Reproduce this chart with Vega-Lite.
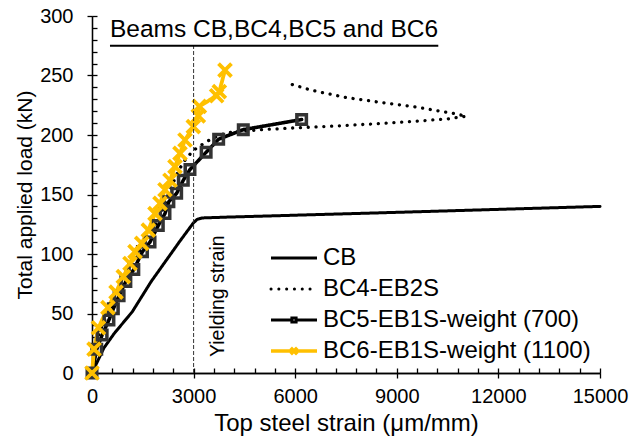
{
  "$schema": "https://vega.github.io/schema/vega-lite/v6.json",
  "width": 508,
  "height": 357,
  "autosize": {"type": "none"},
  "padding": {"left": 92, "top": 16, "right": 42, "bottom": 73},
  "config": {
    "view": {"stroke": null},
    "font": "Liberation Sans",
    "axis": {"labelFont": "Liberation Sans", "titleFont": "Liberation Sans", "labelColor": "#000", "titleColor": "#000", "titleFontWeight": "normal", "grid": false, "domainColor": "#000", "tickColor": "#000", "domainWidth": 1.3, "tickWidth": 1.3, "labelFlush": false, "labelOverlap": false, "format": "d"},
    "legend": {"labelFont": "Liberation Sans"}
  },
  "datasets": {
    "curves": [
      {"series": "CB", "strain": 0, "load": 0, "i": 0},
      {"series": "CB", "strain": 350, "load": 21, "i": 1},
      {"series": "CB", "strain": 650, "load": 33, "i": 2},
      {"series": "CB", "strain": 1190, "load": 51.5, "i": 3},
      {"series": "CB", "strain": 1750, "load": 77, "i": 4},
      {"series": "CB", "strain": 2200, "load": 95, "i": 5},
      {"series": "CB", "strain": 2600, "load": 111, "i": 6},
      {"series": "CB", "strain": 2990, "load": 126, "i": 7},
      {"series": "CB", "strain": 3100, "load": 129, "i": 8},
      {"series": "CB", "strain": 3250, "load": 130.3, "i": 9},
      {"series": "CB", "strain": 4000, "load": 131, "i": 10},
      {"series": "CB", "strain": 9000, "load": 135, "i": 11},
      {"series": "CB", "strain": 15000, "load": 140, "i": 12},
      {"series": "BC4-EB2S", "strain": 0, "load": 0, "i": 0},
      {"series": "BC4-EB2S", "strain": 100, "load": 24, "i": 1},
      {"series": "BC4-EB2S", "strain": 300, "load": 40, "i": 2},
      {"series": "BC4-EB2S", "strain": 600, "load": 57, "i": 3},
      {"series": "BC4-EB2S", "strain": 900, "load": 75, "i": 4},
      {"series": "BC4-EB2S", "strain": 1200, "load": 92, "i": 5},
      {"series": "BC4-EB2S", "strain": 1500, "load": 107, "i": 6},
      {"series": "BC4-EB2S", "strain": 1800, "load": 121, "i": 7},
      {"series": "BC4-EB2S", "strain": 2050, "load": 134, "i": 8},
      {"series": "BC4-EB2S", "strain": 2250, "load": 150, "i": 9},
      {"series": "BC4-EB2S", "strain": 2400, "load": 160, "i": 10},
      {"series": "BC4-EB2S", "strain": 2550, "load": 170, "i": 11},
      {"series": "BC4-EB2S", "strain": 2750, "load": 179, "i": 12},
      {"series": "BC4-EB2S", "strain": 2990, "load": 187, "i": 13},
      {"series": "BC4-EB2S", "strain": 3385, "load": 194.5, "i": 14},
      {"series": "BC4-EB2S", "strain": 3780, "load": 200, "i": 15},
      {"series": "BC4-EB2S", "strain": 4025, "load": 202, "i": 16},
      {"series": "BC4-EB2S", "strain": 5000, "load": 204.5, "i": 17},
      {"series": "BC4-EB2S", "strain": 6000, "load": 206, "i": 18},
      {"series": "BC4-EB2S", "strain": 7500, "load": 208, "i": 19},
      {"series": "BC4-EB2S", "strain": 9000, "load": 210.5, "i": 20},
      {"series": "BC4-EB2S", "strain": 10500, "load": 213.5, "i": 21},
      {"series": "BC4-EB2S", "strain": 11050, "load": 215.8, "i": 22},
      {"series": "BC4-EB2S", "strain": 10700, "load": 218, "i": 23},
      {"series": "BC4-EB2S", "strain": 9500, "load": 223.8, "i": 24},
      {"series": "BC4-EB2S", "strain": 8500, "load": 227.5, "i": 25},
      {"series": "BC4-EB2S", "strain": 7500, "load": 231.5, "i": 26},
      {"series": "BC4-EB2S", "strain": 6500, "load": 237.5, "i": 27},
      {"series": "BC4-EB2S", "strain": 5900, "load": 242.5, "i": 28},
      {"series": "BC5-EB1S-weight (700)", "strain": 0, "load": 0, "i": 0},
      {"series": "BC5-EB1S-weight (700)", "strain": 140, "load": 20, "i": 1},
      {"series": "BC5-EB1S-weight (700)", "strain": 300, "load": 32, "i": 2},
      {"series": "BC5-EB1S-weight (700)", "strain": 500, "load": 44.5, "i": 3},
      {"series": "BC5-EB1S-weight (700)", "strain": 630, "load": 54, "i": 4},
      {"series": "BC5-EB1S-weight (700)", "strain": 800, "load": 65, "i": 5},
      {"series": "BC5-EB1S-weight (700)", "strain": 1000, "load": 77, "i": 6},
      {"series": "BC5-EB1S-weight (700)", "strain": 1235, "load": 87, "i": 7},
      {"series": "BC5-EB1S-weight (700)", "strain": 1490, "load": 102, "i": 8},
      {"series": "BC5-EB1S-weight (700)", "strain": 1713, "load": 110, "i": 9},
      {"series": "BC5-EB1S-weight (700)", "strain": 1958, "load": 124, "i": 10},
      {"series": "BC5-EB1S-weight (700)", "strain": 2155, "load": 134, "i": 11},
      {"series": "BC5-EB1S-weight (700)", "strain": 2270, "load": 144, "i": 12},
      {"series": "BC5-EB1S-weight (700)", "strain": 2500, "load": 151, "i": 13},
      {"series": "BC5-EB1S-weight (700)", "strain": 2696, "load": 162, "i": 14},
      {"series": "BC5-EB1S-weight (700)", "strain": 2893, "load": 171, "i": 15},
      {"series": "BC5-EB1S-weight (700)", "strain": 3370, "load": 185.5, "i": 16},
      {"series": "BC5-EB1S-weight (700)", "strain": 3740, "load": 196.5, "i": 17},
      {"series": "BC5-EB1S-weight (700)", "strain": 4467, "load": 204.5, "i": 18},
      {"series": "BC5-EB1S-weight (700)", "strain": 6190, "load": 213, "i": 19},
      {"series": "BC6-EB1S-weight (1100)", "strain": 0, "load": 0, "i": 0},
      {"series": "BC6-EB1S-weight (1100)", "strain": 60, "load": 20, "i": 1},
      {"series": "BC6-EB1S-weight (1100)", "strain": 190, "load": 38, "i": 2},
      {"series": "BC6-EB1S-weight (1100)", "strain": 470, "load": 55, "i": 3},
      {"series": "BC6-EB1S-weight (1100)", "strain": 710, "load": 68, "i": 4},
      {"series": "BC6-EB1S-weight (1100)", "strain": 925, "load": 81, "i": 5},
      {"series": "BC6-EB1S-weight (1100)", "strain": 1122, "load": 92, "i": 6},
      {"series": "BC6-EB1S-weight (1100)", "strain": 1270, "load": 102, "i": 7},
      {"series": "BC6-EB1S-weight (1100)", "strain": 1467, "load": 109, "i": 8},
      {"series": "BC6-EB1S-weight (1100)", "strain": 1663, "load": 120, "i": 9},
      {"series": "BC6-EB1S-weight (1100)", "strain": 1860, "load": 134, "i": 10},
      {"series": "BC6-EB1S-weight (1100)", "strain": 2008, "load": 142.6, "i": 11},
      {"series": "BC6-EB1S-weight (1100)", "strain": 2155, "load": 154, "i": 12},
      {"series": "BC6-EB1S-weight (1100)", "strain": 2303, "load": 162, "i": 13},
      {"series": "BC6-EB1S-weight (1100)", "strain": 2450, "load": 173.4, "i": 14},
      {"series": "BC6-EB1S-weight (1100)", "strain": 2598, "load": 184.6, "i": 15},
      {"series": "BC6-EB1S-weight (1100)", "strain": 2746, "load": 195.8, "i": 16},
      {"series": "BC6-EB1S-weight (1100)", "strain": 2992, "load": 207, "i": 17},
      {"series": "BC6-EB1S-weight (1100)", "strain": 3140, "load": 216, "i": 18},
      {"series": "BC6-EB1S-weight (1100)", "strain": 3170, "load": 224, "i": 19},
      {"series": "BC6-EB1S-weight (1100)", "strain": 3680, "load": 233, "i": 20},
      {"series": "BC6-EB1S-weight (1100)", "strain": 3760, "load": 236.5, "i": 21},
      {"series": "BC6-EB1S-weight (1100)", "strain": 3927, "load": 254.5, "i": 22}
    ],
    "one": [{"note": "annotation"}]
  },
  "resolve": {"axis": {"x": "independent", "y": "independent"}},
  "layer": [
    {
      "data": {"name": "curves"},
      "mark": {"type": "line", "strokeJoin": "round", "strokeCap": "round"},
      "encoding": {
        "x": {"field": "strain", "type": "quantitative", "scale": {"domain": [0, 15000], "nice": false, "zero": false},
          "axis": {"orient": "bottom", "values": [0, 3000, 6000, 9000, 12000, 15000], "title": "Top steel strain (μm/mm)", "titleFontSize": 24, "titlePadding": 5, "labelFontSize": 20, "labelPadding": 8, "tickSize": 5}},
        "y": {"field": "load", "type": "quantitative", "scale": {"domain": [0, 300], "nice": false, "zero": false},
          "axis": {"orient": "left", "values": [0, 50, 100, 150, 200, 250, 300], "title": "Total applied load (kN)", "titleFontSize": 21, "titlePadding": 4, "labelFontSize": 20, "labelPadding": 14, "tickSize": 5}},
        "color": {"field": "series", "type": "nominal",
          "scale": {"domain": ["CB", "BC4-EB2S", "BC5-EB1S-weight (700)", "BC6-EB1S-weight (1100)"], "range": ["#000000", "#000000", "#000000", "#FFC000"]},
          "legend": {"orient": "none", "legendX": 190, "legendY": 230, "title": null, "padding": 0, "labelFontSize": 24, "labelColor": "#000", "labelLimit": 400, "symbolSize": 100, "labelOffset": 17, "rowPadding": 7,
            "encode": {"symbols": {"update": {
              "shape": {"signal": "datum.value === 'BC5-EB1S-weight (700)' ? 'M-4.6,0H-0.42M0.42,0H4.6M-0.42,-0.42H0.42V0.42H-0.42Z' : datum.value === 'BC6-EB1S-weight (1100)' ? 'M-4.6,0H4.6M-0.65,-0.65L0.65,0.65M-0.65,0.65L0.65,-0.65' : 'M-4.6,0H4.6'"},
              "strokeDash": {"signal": "datum.value === 'BC4-EB2S' ? [0.1, 8] : [1, 0]"},
              "strokeCap": {"signal": "datum.value === 'BC4-EB2S' ? 'round' : 'butt'"},
              "strokeWidth": {"signal": "datum.value === 'BC6-EB1S-weight (1100)' ? 3.5 : 3"},
              "fill": {"value": "transparent"}
            }}}}},
        "strokeDash": {"field": "series", "type": "nominal", "legend": null,
          "scale": {"domain": ["CB", "BC4-EB2S", "BC5-EB1S-weight (700)", "BC6-EB1S-weight (1100)"], "range": [[1, 0], [0.1, 7.7], [1, 0], [1, 0]]}},
        "strokeWidth": {"field": "series", "type": "nominal", "legend": null,
          "scale": {"domain": ["CB", "BC4-EB2S", "BC5-EB1S-weight (700)", "BC6-EB1S-weight (1100)"], "range": [3, 3.8, 2.5, 3.5]}},
        "order": {"field": "i", "type": "quantitative"}
      }
    },
    {
      "data": {"name": "curves"},
      "transform": [{"filter": "datum.series === 'BC5-EB1S-weight (700)' || datum.series === 'BC6-EB1S-weight (1100)'"}],
      "mark": {"type": "point", "filled": false, "opacity": 1},
      "encoding": {
        "x": {"field": "strain", "type": "quantitative", "axis": null},
        "y": {"field": "load", "type": "quantitative", "axis": null},
        "shape": {"field": "series", "type": "nominal", "legend": null,
          "scale": {"domain": ["BC5-EB1S-weight (700)", "BC6-EB1S-weight (1100)"], "range": ["square", "M-1,-1L1,1M-1,1L1,-1"]}},
        "stroke": {"field": "series", "type": "nominal", "legend": null,
          "scale": {"domain": ["BC5-EB1S-weight (700)", "BC6-EB1S-weight (1100)"], "range": ["#333333", "#FFC000"]}},
        "size": {"field": "series", "type": "nominal", "legend": null,
          "scale": {"domain": ["BC5-EB1S-weight (700)", "BC6-EB1S-weight (1100)"], "range": [90, 169]}},
        "strokeWidth": {"field": "series", "type": "nominal", "legend": null,
          "scale": {"domain": ["BC5-EB1S-weight (700)", "BC6-EB1S-weight (1100)"], "range": [1, 1.3]}}
      }
    },
    {
      "data": {"name": "one"},
      "mark": {"type": "rule", "strokeDash": [4, 2], "strokeWidth": 1, "color": "#333333"},
      "encoding": {
        "x": {"datum": 3000, "type": "quantitative",
          "axis": {"orient": "bottom", "values": [0, 600, 1200, 1800, 2400, 3000, 3600, 4200, 4800, 5400, 6000, 6600, 7200, 7800, 8400, 9000, 9600, 10200, 10800, 11400, 12000, 12600, 13200, 13800, 14400, 15000], "labels": false, "title": null, "tickSize": -5}},
        "y": {"datum": 0, "type": "quantitative",
          "axis": {"orient": "left", "values": [0, 10, 20, 30, 40, 50, 60, 70, 80, 90, 100, 110, 120, 130, 140, 150, 160, 170, 180, 190, 200, 210, 220, 230, 240, 250, 260, 270, 280, 290, 300], "labels": false, "title": null, "tickSize": -5}},
        "y2": {"datum": 275}
      }
    },
    {
      "data": {"name": "one"},
      "mark": {"type": "text", "text": "Yielding strain", "angle": 270, "align": "left", "baseline": "middle", "fontSize": 19.5, "color": "#000"},
      "encoding": {
        "x": {"datum": 3720, "type": "quantitative", "axis": null},
        "y": {"datum": 13.4, "type": "quantitative", "axis": null}
      }
    },
    {
      "data": {"name": "one"},
      "mark": {"type": "text", "text": "Beams CB,BC4,BC5 and BC6", "align": "left", "baseline": "alphabetic", "fontSize": 24.5, "color": "#000"},
      "encoding": {
        "x": {"datum": 531, "type": "quantitative", "axis": null},
        "y": {"datum": 282.6, "type": "quantitative", "axis": null}
      }
    },
    {
      "data": {"name": "one"},
      "mark": {"type": "rule", "strokeWidth": 2, "color": "#000"},
      "encoding": {
        "x": {"datum": 531, "type": "quantitative", "axis": null},
        "x2": {"datum": 10225},
        "y": {"datum": 275, "type": "quantitative", "axis": null}
      }
    }
  ]
}
